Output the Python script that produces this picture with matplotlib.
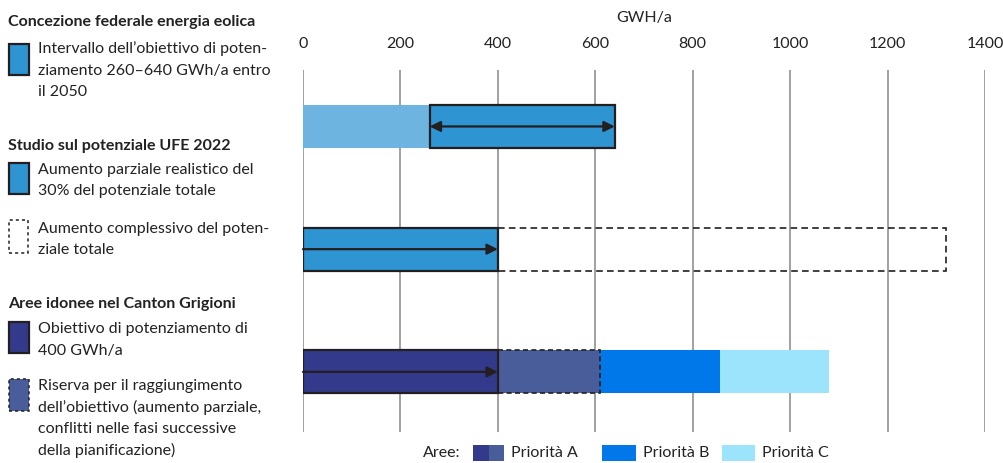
import matplotlib.pyplot as plt
from matplotlib.patches import Rectangle

plt.rcParams['font.family'] = ['Lato', 'DejaVu Sans']

# GWh/a values per row
rows = ['Concezione federale', 'Studio UFE 2022', 'Canton Grigioni']
federal_range = [260, 640]          # target interval by 2050
ufe_partial = 400                   # realistic 30% share
ufe_total = 1320                    # total potential increase
gr_target = 400                     # expansion target, priority A
gr_segments = [610, 855, 1080]      # cumulative ends: reserve (A), B, C
x_ticks = [0, 200, 400, 600, 800, 1000, 1200, 1400]

c_light = '#6EB4E0'
c_mid = '#2E94D2'
c_navy = '#333A8C'
c_slate = '#485D9A'
c_prio_b = '#0078EA'
c_prio_c = '#9CE3FC'
c_edge = '#231F20'
c_text = '#222222'
fs = 11.5

W, H = 1004, 463
fig = plt.figure(figsize=(W / 100, H / 100), dpi=100)


def fx(x):
    return x / W


def fy(y):
    return 1 - y / H


ax = fig.add_axes([fx(303), fy(432), fx(985) - fx(303), fy(70) - fy(432)])
ax.set_xlim(0, 1400)
ax.set_ylim(2.49, -0.46)
ax.xaxis.tick_top()
ax.set_xticks(x_ticks)
ax.set_xticklabels([str(t) for t in x_ticks], fontsize=11.5, color=c_text)
ax.tick_params(axis='x', length=0, pad=14)
ax.set_yticks([])
for s in ax.spines.values():
    s.set_visible(False)
ax.grid(axis='x', color='#9A9A9A', lw=1.3, zorder=0)
ax.set_axisbelow(True)
fig.text(fx(644), fy(18), 'GWH/a', ha='center', va='center', fontsize=11.5, color=c_text)

bh = 0.35
y0, y1, y2 = range(len(rows))

# row 1: federal concept
ax.barh(y0, federal_range[0], height=bh, color=c_light, zorder=2)
ax.barh(y0, federal_range[1] - federal_range[0], left=federal_range[0], height=bh,
        color=c_mid, edgecolor=c_edge, lw=1.6, zorder=3)
ax.annotate('', xy=(federal_range[1], y0), xytext=(federal_range[0], y0),
            arrowprops=dict(arrowstyle='<|-|>', color=c_edge, lw=1.6,
                            mutation_scale=16, shrinkA=0, shrinkB=0), zorder=4)

# row 2: UFE potential study
ax.barh(y1, ufe_total - ufe_partial, left=ufe_partial, height=bh, fill=False,
        edgecolor=c_edge, lw=1.2, ls=(0, (4, 2.5)), zorder=2)
ax.barh(y1, ufe_partial, height=bh, color=c_mid, edgecolor=c_edge, lw=1.6, zorder=3)
ax.annotate('', xy=(ufe_partial, y1), xytext=(0, y1),
            arrowprops=dict(arrowstyle='-|>', color=c_edge, lw=1.6,
                            mutation_scale=16, shrinkA=0, shrinkB=0), zorder=4)

# row 3: suitable areas in Grisons
ax.barh(y2, gr_segments[2] - gr_segments[1], left=gr_segments[1], height=bh,
        color=c_prio_c, zorder=2)
ax.barh(y2, gr_segments[1] - gr_segments[0], left=gr_segments[0], height=bh,
        color=c_prio_b, zorder=2)
ax.barh(y2, gr_segments[0] - gr_target, left=gr_target, height=bh, color=c_slate,
        edgecolor=c_edge, lw=1.2, ls=(0, (3, 2)), zorder=3)
ax.barh(y2, gr_target, height=bh, color=c_navy, edgecolor=c_edge, lw=1.6, zorder=4)
ax.annotate('', xy=(gr_target, y2), xytext=(0, y2),
            arrowprops=dict(arrowstyle='-|>', color=c_edge, lw=1.6,
                            mutation_scale=16, shrinkA=0, shrinkB=0), zorder=5)


# left-hand legend
def swatch(x, y, w, h, **kw):
    fig.patches.append(Rectangle((fx(x), fy(y + h)), w / W, h / H,
                                 transform=fig.transFigure, **kw))


def lines(x, y, texts, step=21.5):
    for i, t in enumerate(texts):
        fig.text(fx(x), fy(y + i * step), t, ha='left', va='center',
                 fontsize=fs, color=c_text)


def heading(y, t):
    fig.text(fx(8), fy(y), t, ha='left', va='center', fontsize=fs,
             fontweight='bold', color=c_text)


heading(22, 'Concezione federale energia eolica')
swatch(9, 44, 20, 31, facecolor=c_mid, edgecolor=c_edge, lw=1.6)
lines(38, 49, ['Intervallo dell’obiettivo di poten-',
               'ziamento 260–640 GWh/a entro', 'il 2050'])

heading(146, 'Studio sul potenziale UFE 2022')
swatch(9, 163, 20, 31, facecolor=c_mid, edgecolor=c_edge, lw=1.6)
lines(38, 170, ['Aumento parziale realistico del',
                '30% del potenziale totale'])
swatch(9, 220, 19, 33, fill=False, edgecolor=c_edge, lw=1.1, ls=(0, (2, 2)))
lines(38, 229, ['Aumento complessivo del poten-', 'ziale totale'])

heading(304, 'Aree idonee nel Canton Grigioni')
swatch(9, 322, 20, 31, facecolor=c_navy, edgecolor=c_edge, lw=1.6)
lines(38, 329, ['Obiettivo di potenziamento di', '400 GWh/a'])
swatch(9, 379, 20, 32, facecolor=c_slate, edgecolor=c_edge, lw=1.1, ls=(0, (2, 2)))
lines(38, 386, ['Riserva per il raggiungimento',
                'dell’obiettivo (aumento parziale,',
                'conflitti nelle fasi successive',
                'della pianificazione)'])

# bottom priority legend
fig.text(fx(423), fy(453), 'Aree:', ha='left', va='center', fontsize=fs, color=c_text)
swatch(473, 445, 16, 16, facecolor=c_navy, lw=0)
swatch(489, 445, 15, 16, facecolor=c_slate, lw=0)
fig.text(fx(511), fy(453), 'Priorità A', ha='left', va='center', fontsize=fs, color=c_text)
swatch(602, 445, 34, 16, facecolor=c_prio_b, lw=0)
fig.text(fx(643), fy(453), 'Priorità B', ha='left', va='center', fontsize=fs, color=c_text)
swatch(722, 445, 33, 16, facecolor=c_prio_c, lw=0)
fig.text(fx(762), fy(453), 'Priorità C', ha='left', va='center', fontsize=fs, color=c_text)

fig.savefig('out.png', dpi=100)
